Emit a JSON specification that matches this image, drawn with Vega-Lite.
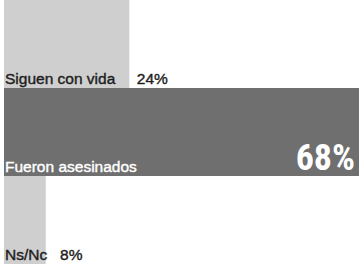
{
  "$schema": "https://vega.github.io/schema/vega-lite/v6.json",
  "width": 355,
  "height": 264,
  "autosize": {"type": "none"},
  "padding": {"left": 4, "top": 0, "right": 0, "bottom": 0},
  "background": "white",
  "config": {"view": {"stroke": null}},
  "data": {
    "values": [
      {"name": "Siguen con vida", "value": 24, "label": "Siguen con vida\u00a0\u00a0\u00a0\u00a0\u00a024%"},
      {"name": "Fueron asesinados", "value": 68, "label": "Fueron asesinados", "big": "68%"},
      {"name": "Ns/Nc", "value": 8, "label": "Ns/Nc\u00a0\u00a0\u00a08%"}
    ]
  },
  "encoding": {
    "y": {
      "field": "name",
      "type": "nominal",
      "sort": null,
      "scale": {"paddingInner": 0, "paddingOuter": 0},
      "axis": null
    }
  },
  "layer": [
    {
      "mark": {"type": "bar"},
      "encoding": {
        "x": {
          "field": "value",
          "type": "quantitative",
          "scale": {"domain": [0, 68], "nice": false, "zero": true},
          "axis": null
        },
        "color": {
          "field": "name",
          "type": "nominal",
          "scale": {
            "domain": ["Siguen con vida", "Fueron asesinados", "Ns/Nc"],
            "range": ["#cfcfcf", "#6f6f6f", "#cfcfcf"]
          },
          "legend": null
        }
      }
    },
    {
      "mark": {
        "type": "text",
        "align": "left",
        "baseline": "alphabetic",
        "dx": 1,
        "dy": 40,
        "fontSize": 15.5,
        "strokeWidth": 0.4,
        "font": "Liberation Sans, Arial, sans-serif"
      },
      "encoding": {
        "x": {"datum": 0, "type": "quantitative"},
        "text": {"field": "label"},
        "color": {
          "condition": {"test": "datum.name === 'Fueron asesinados'", "value": "#ffffff"},
          "value": "#1e1e1e"
        },
        "stroke": {
          "condition": {"test": "datum.name === 'Fueron asesinados'", "value": "#ffffff"},
          "value": "#1e1e1e"
        }
      }
    },
    {
      "transform": [{"filter": "datum.big"}],
      "mark": {
        "type": "text",
        "align": "right",
        "baseline": "alphabetic",
        "dx": -4,
        "dy": 38,
        "fontSize": 36,
        "fontWeight": "bold",
        "font": "Liberation Sans Narrow, Roboto Condensed, DejaVu Sans Condensed, sans-serif"
      },
      "encoding": {
        "x": {"datum": 68, "type": "quantitative"},
        "text": {"field": "big"},
        "color": {"value": "#ffffff"}
      }
    }
  ]
}
